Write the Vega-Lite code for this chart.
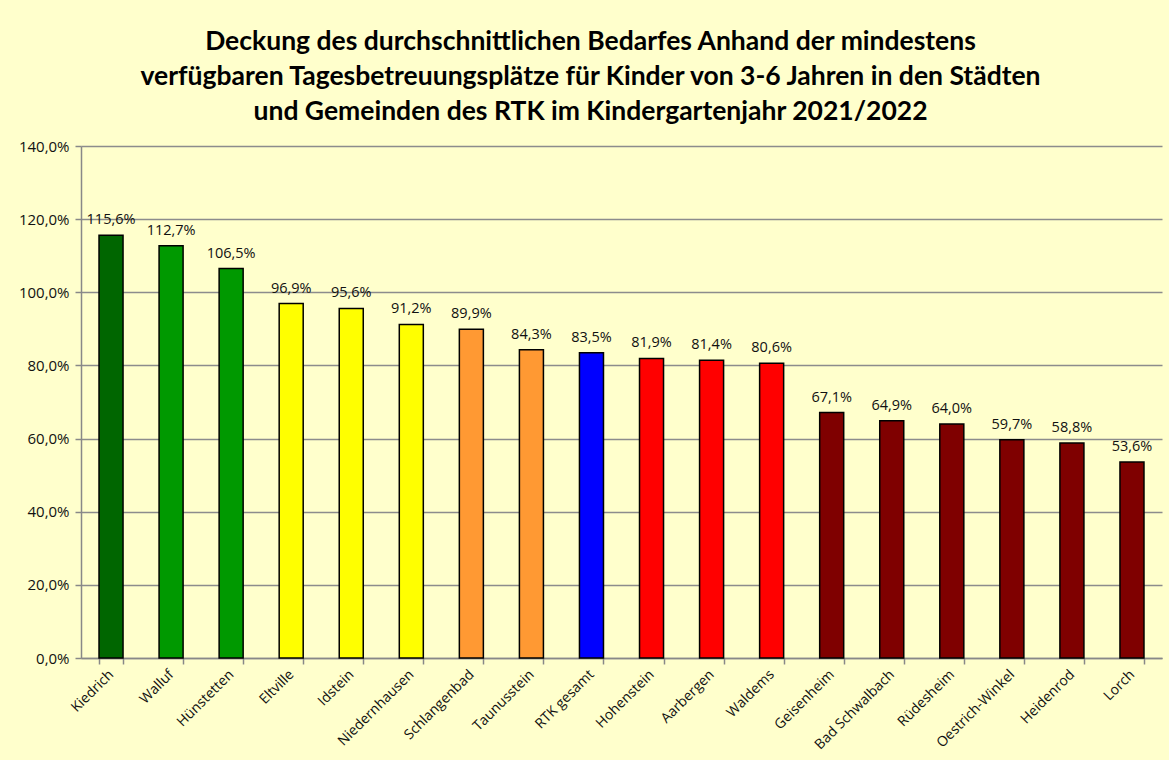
{
  "$schema": "https://vega.github.io/schema/vega-lite/v6.json",
  "width": 1081,
  "height": 512,
  "autosize": {"type": "none"},
  "padding": {"left": 81, "top": 146, "right": 7, "bottom": 102},
  "background": "#FFFFCC",
  "config": {
    "view": {"stroke": null},
    "locale": {"number": {"decimal": ",", "thousands": ".", "grouping": [3], "currency": ["", " €"]}}
  },
  "title": {
    "text": ["Deckung des durchschnittlichen Bedarfes Anhand der mindestens", "verfügbaren Tagesbetreuungsplätze für Kinder von 3-6 Jahren in den Städten", "und Gemeinden des RTK im Kindergartenjahr 2021/2022"],
    "font": "Lato",
    "fontSize": 26.5,
    "fontWeight": "bold",
    "color": "#000000",
    "lineHeight": 35,
    "anchor": "middle",
    "frame": "group",
    "dx": -31,
    "offset": 14
  },
  "data": {
    "values": [
      {"ort": "Kiedrich", "wert": 1.156, "gruppe": "a"},
      {"ort": "Walluf", "wert": 1.127, "gruppe": "b"},
      {"ort": "Hünstetten", "wert": 1.065, "gruppe": "b"},
      {"ort": "Eltville", "wert": 0.969, "gruppe": "c"},
      {"ort": "Idstein", "wert": 0.956, "gruppe": "c"},
      {"ort": "Niedernhausen", "wert": 0.912, "gruppe": "c"},
      {"ort": "Schlangenbad", "wert": 0.899, "gruppe": "d"},
      {"ort": "Taunusstein", "wert": 0.843, "gruppe": "d"},
      {"ort": "RTK gesamt", "wert": 0.835, "gruppe": "e"},
      {"ort": "Hohenstein", "wert": 0.819, "gruppe": "f"},
      {"ort": "Aarbergen", "wert": 0.814, "gruppe": "f"},
      {"ort": "Waldems", "wert": 0.806, "gruppe": "f"},
      {"ort": "Geisenheim", "wert": 0.671, "gruppe": "g"},
      {"ort": "Bad Schwalbach", "wert": 0.649, "gruppe": "g"},
      {"ort": "Rüdesheim", "wert": 0.640, "gruppe": "g"},
      {"ort": "Oestrich-Winkel", "wert": 0.597, "gruppe": "g"},
      {"ort": "Heidenrod", "wert": 0.588, "gruppe": "g"},
      {"ort": "Lorch", "wert": 0.536, "gruppe": "g"}
    ]
  },
  "encoding": {
    "x": {
      "field": "ort",
      "type": "nominal",
      "sort": null,
      "scale": {"paddingInner": 0.6, "paddingOuter": 0.3},
      "axis": {
        "title": null,
        "labelAngle": -45,
        "labelAlign": "right",
        "labelBaseline": "middle",
        "labelFont": "Open Sans",
        "labelFontSize": 14,
        "labelColor": "#111111",
        "labelPadding": 8,
        "tickBand": "extent",
        "tickColor": "#888888",
        "tickWidth": 1.5,
        "tickSize": 6,
        "domainColor": "#888888",
        "domainWidth": 1.5,
        "grid": false
      }
    },
    "y": {
      "field": "wert",
      "type": "quantitative",
      "scale": {"domain": [0, 1.4], "nice": false},
      "axis": {
        "title": null,
        "format": ".1%",
        "values": [0, 0.2, 0.4, 0.6, 0.8, 1.0, 1.2, 1.4],
        "labelFont": "Open Sans",
        "labelFontSize": 15,
        "labelColor": "#111111",
        "labelPadding": 6,
        "tickColor": "#888888",
        "tickWidth": 1.5,
        "tickSize": 6,
        "domainColor": "#888888",
        "domainWidth": 1.5,
        "grid": true,
        "gridColor": "#8C8C8C",
        "gridWidth": 1.5
      }
    }
  },
  "layer": [
    {
      "mark": {"type": "bar", "stroke": "#000000", "strokeWidth": 1.5},
      "encoding": {
        "color": {
          "field": "gruppe",
          "type": "nominal",
          "legend": null,
          "scale": {
            "domain": ["a", "b", "c", "d", "e", "f", "g"],
            "range": ["#006600", "#009900", "#FFFF00", "#FF9933", "#0000FF", "#FF0000", "#7F0000"]
          }
        }
      }
    },
    {
      "mark": {"type": "text", "baseline": "bottom", "dy": -8, "font": "Open Sans", "fontSize": 14.5, "color": "#111111"},
      "encoding": {
        "text": {"field": "wert", "type": "quantitative", "format": ".1%"}
      }
    }
  ]
}
